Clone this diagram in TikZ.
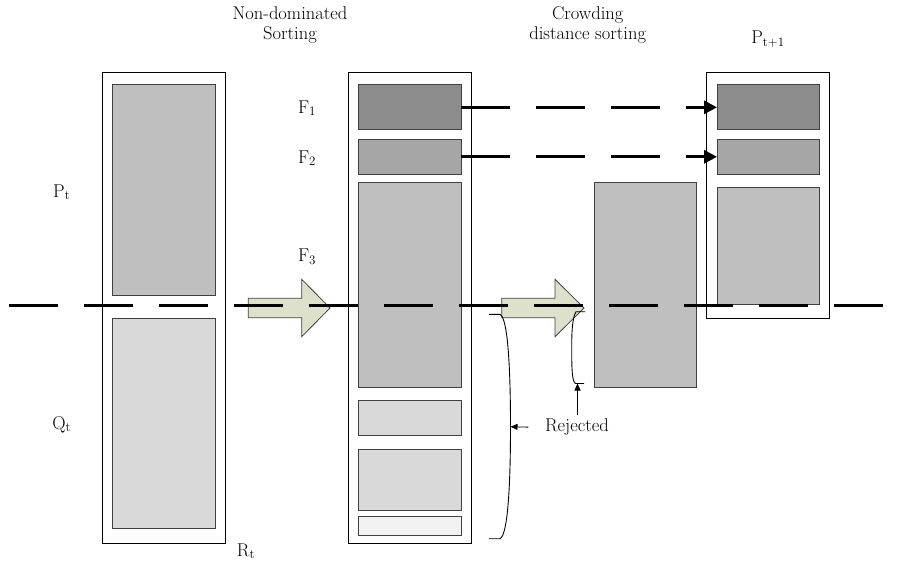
\documentclass[tikz,border=0pt]{standalone}
\usetikzlibrary{arrows.meta,fit}

\definecolor{fillA}{HTML}{8C8C8C}
\definecolor{fillB}{HTML}{A6A6A6}
\definecolor{fillC}{HTML}{BFBFBF}
\definecolor{fillD}{HTML}{D9D9D9}
\definecolor{fillE}{HTML}{F2F2F2}
\definecolor{arrowfill}{HTML}{DDE1CB}
\definecolor{cellline}{HTML}{404040}

\begin{document}
\begin{tikzpicture}[x=1pt,y=-1pt,
  outerbox/.style={draw=black, line width=0.9pt, fill=white, inner sep=0pt, outer sep=0pt},
  cell/.style={draw=cellline, line width=1pt, inner sep=0pt, outer sep=0pt},
  lbl/.style={font=\fontsize{18.5}{20.7}\selectfont, inner sep=0pt, anchor=base, align=center},
  blockarrow/.style={draw=cellline, line width=0.8pt, fill=arrowfill, line join=miter},
  cutline/.style={line width=3pt, dash pattern=on 49pt off 26pt},
  carry/.style={cutline, -{Triangle[length=13pt,width=13pt]}},
  note/.style={line width=0.8pt, -{Triangle[length=7pt,width=6pt]}},
  bracket/.style={line width=0.9pt}
]
\useasboundingbox (0,0) rectangle (904,561);

% ---- combined population R_t = P_t + Q_t
\node[outerbox, fit={(102.3,72.3) (225.3,543.3)}] (Rt) {};
\node[cell, fill=fillC, fit={(112.7,84.7) (215.3,295)}] (Pt) {};
\node[cell, fill=fillD, fit={(112.7,318.3) (215.3,528.3)}] (Qt) {};

% ---- fronts after non-dominated sorting
\node[outerbox, fit={(348.3,72.3) (471.7,543.3)}] (Fbox) {};
\node[cell, fill=fillA, fit={(358.3,84.7) (461,130)}] (F1) {};
\node[cell, fill=fillB, fit={(358.3,139.3) (461,174.3)}] (F2) {};
\node[cell, fill=fillC, fit={(358.3,183) (461,387.7)}] (F3) {};
\node[cell, fill=fillD, fit={(358.3,400) (461,435.7)}] (F4) {};
\node[cell, fill=fillD, fit={(358.3,449.3) (461,510.7)}] (F5) {};
\node[cell, fill=fillE, fit={(358.3,516.3) (461,535.3)}] (F6) {};

% ---- front F3 after crowding distance sorting
\node[cell, fill=fillC, fit={(594,183) (696.7,387.7)}] (CD) {};

% ---- next population P_{t+1}
\node[outerbox, fit={(706.7,72.3) (829.3,318.3)}] (Pnext) {};
\node[cell, fill=fillA, fit={(717,84.7) (819.3,130)}] (G1) {};
\node[cell, fill=fillB, fit={(717,139.3) (819.3,174.3)}] (G2) {};
\node[cell, fill=fillC, fit={(717,187.3) (819.3,304)}] (G3) {};

% ---- block arrows
\draw[blockarrow] (248.3,298.3) -- (301.7,298.3) -- (301.7,279.3) -- (330,308)
  -- (301.7,336.7) -- (301.7,317.7) -- (248.3,317.7) -- cycle;
\draw[blockarrow] (501.7,298.3) -- (555,298.3) -- (555,279.3) -- (584,308)
  -- (555,336.7) -- (555,317.7) -- (501.7,317.7) -- cycle;

% ---- population size cut line
\coordinate (cutL) at (9.3,305.7);
\coordinate (cutR) at (883,305.7);
\draw[cutline] (cutL) -- (cutR);

% ---- fronts carried over
\draw[carry] (F1.east) -- (G1.west);
\draw[carry] (F2.east) -- (G2.west);

% ---- rejected brackets
\coordinate (bigMid) at (510.5,426.7);
\draw[bracket] (489,314.3) -- (500,314.3)
  .. controls (508,318) and (510.5,370) .. (bigMid)
  .. controls (510.5,483) and (508,535) .. (500,538.7) -- (489,538.7);
\coordinate (smallBot) at (577.5,383.5);
\draw[bracket] (585,311.7) -- (576,311.7)
  .. controls (572,318) and (571.7,335) .. (571.7,347)
  .. controls (571.7,370) and (572,381) .. (575.5,383.5) -- (584,383.5);

% ---- labels (multi-line labels sit on the baseline of their last line)
\node[lbl] (lPt) at (61.7,197.3) {P\textsubscript{t}};
\node[lbl] (lQt) at (61.7,429.3) {Q\textsubscript{t}};
\node[lbl] (lRt) at (246,556) {R\textsubscript{t}};
\node[lbl] (lF1) at (307,113.3) {F\textsubscript{1}};
\node[lbl] (lF2) at (307,163.3) {F\textsubscript{2}};
\node[lbl] (lF3) at (307,261.7) {F\textsubscript{3}};
\node[lbl] (lNDS) at (290,40) {Non-dominated\\Sorting};
\node[lbl] (lCDS) at (587.7,40) {Crowding\\distance sorting};
\node[lbl] (lPn) at (768,44) {P\textsubscript{t+1}};
\node[lbl] (rej) at (577,431.7) {Rejected};

\draw[note] (rej.west) ++(-16.5,0) -- (bigMid);
\draw[note] (rej.north -| smallBot) ++(0,-4) -- (smallBot);
\end{tikzpicture}
\end{document}
